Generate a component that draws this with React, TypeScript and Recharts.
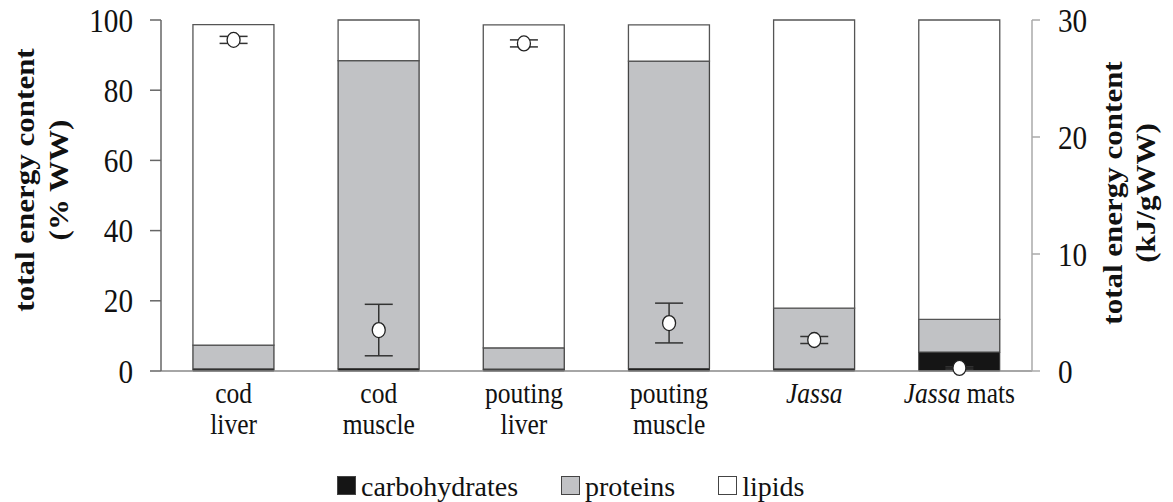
import { ComposedChart, Bar, Line, XAxis, YAxis, Legend, ErrorBar } from 'recharts';

const categories = ['cod\nliver', 'cod\nmuscle', 'pouting\nliver', 'pouting\nmuscle', 'Jassa', 'Jassa mats'];
const carbohydrates = [0.6, 0.7, 0.5, 0.7, 0.6, 5.4];
const proteins = [6.8, 87.7, 6.1, 87.6, 17.3, 9.3];
const lipids = [91.3, 11.6, 92.0, 10.3, 82.1, 85.3];
const energy = [28.3, 3.5, 28.0, 4.1, 2.65, 0.26];
const energyErr = [0.3, 2.2, 0.3, 1.7, 0.3, 0.1];
const pctTicks = [0, 20, 40, 60, 80, 100];
const kjTicks = [0, 10, 20, 30];

const data = categories.map((name, i) => ({
  name,
  carbohydrates: carbohydrates[i],
  proteins: proteins[i],
  lipids: lipids[i],
  energy: energy[i],
  err: energyErr[i],
}));

const serif = '"Liberation Serif", "Times New Roman", serif';
// the original figure is slightly squeezed horizontally
const SQUEEZE = 0.86;

function CategoryTick({ x, y, payload }: any) {
  const lines = String(payload.value).split('\n');
  return (
    <text
      transform={`translate(${x},${y}) scale(0.88,1)`}
      textAnchor="middle"
      fontFamily={serif}
      fontSize={29}
      fill="#111"
    >
      {lines.map((line, i) => {
        const dy = i === 0 ? 24 : 31;
        if (line.startsWith('Jassa')) {
          return (
            <tspan key={i} x={0} dy={dy}>
              <tspan fontStyle="italic">Jassa</tspan>
              {line.slice(5)}
            </tspan>
          );
        }
        return (
          <tspan key={i} x={0} dy={dy}>
            {line}
          </tspan>
        );
      })}
    </text>
  );
}

function NumberTick({ x, y, payload, anchor }: any) {
  return (
    <text
      transform={`translate(${x},${y}) scale(${SQUEEZE},1)`}
      textAnchor={anchor}
      dy="0.34em"
      fontFamily={serif}
      fontSize={34}
      fill="#111"
    >
      {payload.value}
    </text>
  );
}

function AxisTitle({ lines, cx, cy }: any) {
  return (
    <g>
      {lines.map((t: string, i: number) => (
        <text
          key={i}
          transform={`translate(${cx[i]},${cy}) scale(${SQUEEZE},1) rotate(-90)`}
          textAnchor="middle"
          dy="0.3em"
          fontFamily={serif}
          fontWeight="bold"
          fontSize={31}
          fill="#111"
        >
          {t}
        </text>
      ))}
    </g>
  );
}

function Marker({ cx, cy }: any) {
  if (cx == null || cy == null) return null;
  return <ellipse cx={cx} cy={cy} rx={6.5} ry={7.5} fill="#fff" stroke="#222" strokeWidth={1.3} />;
}

const legendItems = [
  { label: 'carbohydrates', fill: '#151515' },
  { label: 'proteins', fill: '#c1c2c5' },
  { label: 'lipids', fill: '#fff' },
];

function LegendContent() {
  return (
    <div style={{ height: 30, display: 'flex', alignItems: 'center', paddingLeft: 236, fontFamily: serif, fontSize: 28, color: '#111' }}>
      {legendItems.map((it) => (
        <div key={it.label} style={{ display: 'flex', alignItems: 'center', marginRight: 43 }}>
          <span style={{ width: 19, height: 19, background: it.fill, border: '1px solid #444', boxSizing: 'border-box', marginRight: 5, marginTop: -4 }} />
          <span>{it.label}</span>
        </div>
      ))}
    </div>
  );
}

export default function App() {
  return (
    <div style={{ width: 1173, height: 502, background: '#fff' }}>
      <style>{`body{margin:0}`}</style>
      <ComposedChart
        width={1173}
        height={502}
        data={data}
        margin={{ top: 20, right: 81, left: 101, bottom: 0 }}
        barCategoryGap="22%"
      >
        <XAxis
          dataKey="name"
          tick={<CategoryTick />}
          tickLine={false}
          axisLine={{ stroke: '#888', strokeWidth: 1.5 }}
          height={101}
          interval={0}
        />
        <YAxis
          yAxisId="pct"
          domain={[0, 100]}
          ticks={pctTicks}
          width={60}
          tickSize={11}
          tickMargin={17}
          axisLine={{ stroke: '#666', strokeWidth: 1.5 }}
          tickLine={{ stroke: '#666', strokeWidth: 1.5 }}
          tick={<NumberTick anchor="end" />}
          label={<AxisTitle lines={['total energy content', '(% WW)']} cx={[26, 60]} cy={180} />}
        />
        <YAxis
          yAxisId="kj"
          orientation="right"
          domain={[0, 30]}
          ticks={kjTicks}
          width={60}
          tickSize={8}
          tickMargin={18}
          axisLine={{ stroke: '#aaa', strokeWidth: 1.5 }}
          tickLine={{ stroke: '#aaa', strokeWidth: 1.5 }}
          tick={<NumberTick anchor="start" />}
          label={<AxisTitle lines={['total energy content', '(kJ/gWW)']} cx={[1114, 1147]} cy={193} />}
        />
        <Legend verticalAlign="bottom" align="left" content={<LegendContent />} />
        <Bar yAxisId="pct" dataKey="carbohydrates" stackId="a" fill="#151515" stroke="#333" strokeWidth={1} isAnimationActive={false} />
        <Bar yAxisId="pct" dataKey="proteins" stackId="a" fill="#c1c2c5" stroke="#444" strokeWidth={1.3} isAnimationActive={false} />
        <Bar yAxisId="pct" dataKey="lipids" stackId="a" fill="#fff" stroke="#555" strokeWidth={1.3} isAnimationActive={false} />
        <Line
          yAxisId="kj"
          dataKey="energy"
          stroke="none"
          dot={<Marker />}
          activeDot={false}
          isAnimationActive={false}
        >
          <ErrorBar dataKey="err" direction="y" width={14} stroke="#333" strokeWidth={1.5} />
        </Line>
      </ComposedChart>
    </div>
  );
}
